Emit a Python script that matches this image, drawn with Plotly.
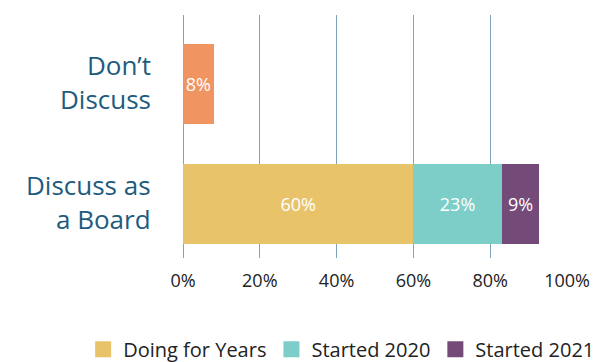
import plotly.graph_objects as go

categories = ["Discuss as a Board", "Don’t Discuss"]
category_labels = ["Discuss as<br>a Board", "Don’t<br>Discuss"]
series_names = ["Doing for Years", "Started 2020", "Started 2021", "Don't Discuss"]
doing_years = [60, None]
started_2020 = [23, None]
started_2021 = [9.8, None]
dont_discuss = [None, 8]
label_doing = ["60%", ""]
label_2020 = ["23%", ""]
label_2021 = ["9%", ""]
label_dont = ["", "8%"]
x_ticks = [0, 20, 40, 60, 80, 100]
x_tick_text = ["0%", "20%", "40%", "60%", "80%", "100%"]

FONT = "'Open Sans', Lato, sans-serif"
colors = ["#E8C36A", "#7DCEC9", "#744A78", "#F09462"]

fig = go.Figure()
for name, vals, txt, col in [
    (series_names[0], doing_years, label_doing, colors[0]),
    (series_names[1], started_2020, label_2020, colors[1]),
    (series_names[2], started_2021, label_2021, colors[2]),
    (series_names[3], dont_discuss, label_dont, colors[3]),
]:
    fig.add_trace(go.Bar(
        y=categories, x=vals, name=name, orientation="h",
        marker=dict(color=col, line=dict(width=0)),
        text=txt, textposition="inside", insidetextanchor="middle",
        textangle=0, constraintext="none",
        textfont=dict(color="white", size=18, family=FONT),
        showlegend=False, width=0.667, hoverinfo="skip",
    ))

# legend-only entries with larger square swatches
for name, col in zip(series_names[:3], colors[:3]):
    fig.add_trace(go.Scatter(
        x=[None], y=[None], mode="markers", name=name,
        marker=dict(symbol="square", size=16, color=col),
        showlegend=True, hoverinfo="skip",
    ))

# category labels (right-aligned, two lines)
for cat, lab in zip(categories, category_labels):
    fig.add_annotation(
        x=0, xref="paper", xanchor="right", xshift=-30,
        y=cat, yref="y", yanchor="middle", yshift=2,
        text=lab, showarrow=False, align="right",
        font=dict(size=26, color="#1E5B7E", family=FONT),
    )

fig.update_layout(
    barmode="stack",
    width=594, height=362,
    margin=dict(l=183, r=27, t=15, b=104, autoexpand=False),
    plot_bgcolor="white", paper_bgcolor="white",
    font=dict(family=FONT),
    xaxis=dict(
        range=[0, 100], tickvals=x_ticks, ticktext=x_tick_text,
        showgrid=True, gridcolor="#7FA3B8", gridwidth=1,
        zeroline=True, zerolinecolor="#7FA3B8", zerolinewidth=1,
        tickfont=dict(size=18, color="#222222", family=FONT),
        ticklabelstandoff=10, showline=False, fixedrange=True,
        automargin=False,
    ),
    yaxis=dict(
        type="category", categoryorder="array", categoryarray=categories,
        range=[-0.45, 1.575], showgrid=False, zeroline=False,
        showticklabels=False, showline=False, automargin=False,
        fixedrange=True,
    ),
    legend=dict(
        orientation="h", x=-0.26, xanchor="left", y=-0.375, yanchor="middle",
        font=dict(size=20, color="#222222", family=FONT),
        traceorder="normal",
    ),
)

fig.write_html(
    "out.html",
    config={"displayModeBar": False, "staticPlot": True},
    post_script="document.body.style.margin='0';",
)
